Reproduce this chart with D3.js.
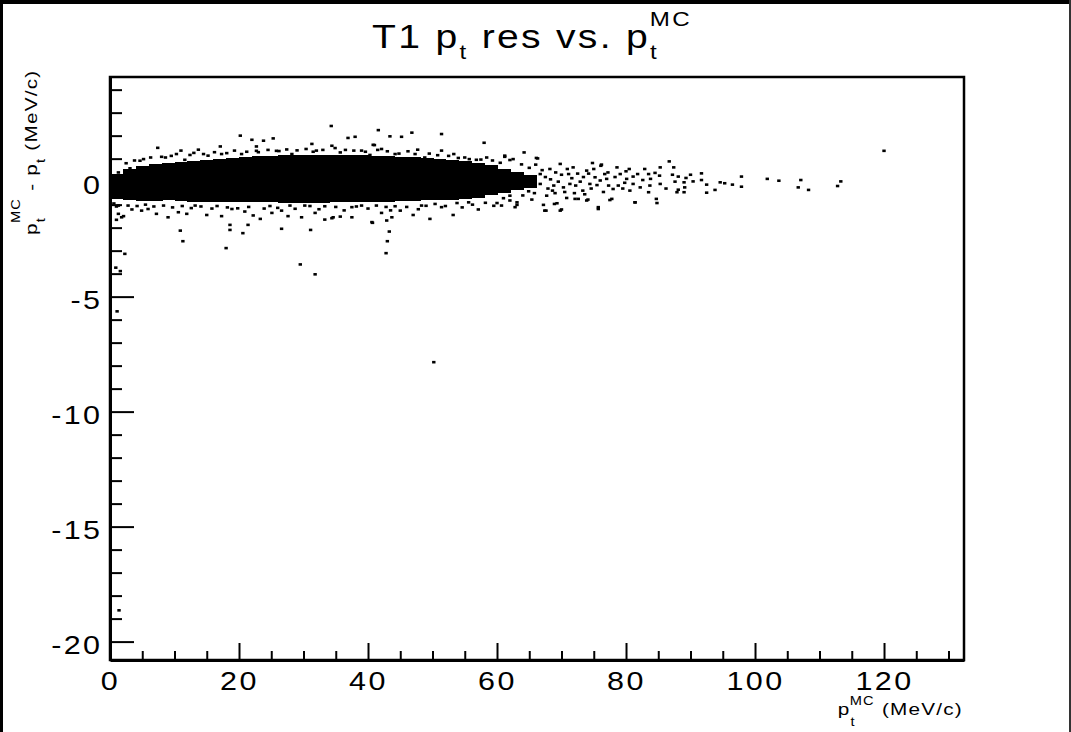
<!DOCTYPE html>
<html>
<head>
<meta charset="utf-8">
<script src="https://cdn.jsdelivr.net/npm/d3@7"></script>
<style>
  body { margin: 0; background: #fff; }
  text { font-family: "Liberation Sans", Arial, sans-serif; fill: #000; }
</style>
</head>
<body>
<svg id="chart" width="1071" height="732"></svg>
<script>
// axis ticks
const xMajor = [0, 20, 40, 60, 80, 100, 120];
const yMajor = [-20, -15, -10, -5, 0];

// dense core of the band, per 2 MeV/c slice (edges, lower and upper limit)
const bandEdges = [0.3, 2, 4, 6, 8, 10, 12, 14, 16, 18, 20, 22, 24, 26, 28, 30, 32,
                   34, 36, 38, 40, 42, 44, 46, 48, 50, 52, 54, 56, 58, 60, 62, 64, 66];
const bandLo = [-0.74, -0.82, -0.85, -0.84, -0.82, -0.85, -0.88, -0.88, -0.88, -0.90, -0.90,
                -0.90, -0.90, -0.92, -0.92, -0.92, -0.92, -0.90, -0.90, -0.88, -0.88, -0.88,
                -0.86, -0.85, -0.82, -0.80, -0.78, -0.75, -0.70, -0.60, -0.48, -0.38, -0.26];
const bandHi = [0.34, 0.56, 0.70, 0.76, 0.80, 0.86, 0.90, 0.95, 1.00, 1.04, 1.08,
                1.10, 1.12, 1.14, 1.14, 1.16, 1.18, 1.18, 1.16, 1.14, 1.12, 1.10,
                1.08, 1.05, 1.01, 0.97, 0.93, 0.88, 0.82, 0.72, 0.54, 0.42, 0.30];

// single entries hugging the band edges
const edgePts = [
  [2.5,0.8],[3.8,0.92],[5.2,0.98],[6.3,1.05],[8.0,1.08],[9.5,1.12],[10.3,1.2],[12.4,1.16],
  [13.0,1.25],[14.5,1.2],[16.2,1.28],[18.1,1.24],[19.3,1.35],[21.2,1.3],[23.0,1.28],[24.5,1.38],
  [26.2,1.33],[27.4,1.4],[29.0,1.36],[30.4,1.42],[31.5,1.3],[33.0,1.38],[34.9,1.46],[36.5,1.38],
  [37.8,1.35],[39.6,1.3],[41.5,1.38],[43.0,1.32],[44.8,1.22],[46.2,1.32],[47.3,1.2],[49.5,1.22],
  [50.8,1.15],[52.5,1.12],[53.3,1.2],[55.0,1.05],[57.5,0.96],[59.3,0.92],[60.5,0.82],[63.8,0.75],
  [65.0,0.6],
  [0.6,-0.95],[2.8,-1.04],[4.2,-1.06],[5.5,-1.0],[6.8,-1.08],[8.3,-1.04],[9.7,-1.12],[11.2,-1.06],
  [12.6,-1.15],[14.1,-1.08],[15.8,-1.17],[16.6,-1.06],[18.2,-1.12],[19.8,-1.16],[21.5,-1.1],
  [23.9,-1.17],[24.8,-1.06],[26.0,-1.14],[28.7,-1.18],[31.0,-1.06],[32.4,-1.2],[35.0,-1.1],
  [36.3,-1.25],[38.2,-1.08],[40.0,-1.17],[42.8,-1.1],[43.5,-1.25],[46.0,-1.1],[47.8,-1.2],
  [49.0,-1.05],[52.0,-1.06],[54.6,-1.12],[56.2,-1.0],[58.2,-0.92],[59.5,-1.05],[61.0,-0.72],
  [64.0,-0.6],[65.8,-0.5]
];

// single entries around the band
const fringePts = [
  [20.2,2.0],[22.0,1.82],[23.8,1.78],[25.3,1.88],[7.4,1.47],[11.0,1.35],[13.7,1.39],[17.1,1.53],
  [22.7,1.53],[8.6,1.05],[4.65,0.91],[11.6,0.95],[15.2,1.13],[17.3,1.2],[20.4,1.2],[22.7,1.34],
  [25.8,1.34],[3.1,0.58],[1.3,0.4],
  [1.3,-1.04],[1.3,-1.4],[2.1,-1.5],[1.0,-1.66],[3.4,-1.21],[4.9,-1.26],[5.9,-1.19],[7.2,-1.4],
  [9.0,-1.55],[10.6,-1.33],[11.9,-1.4],[13.2,-1.04],[15.0,-1.45],[17.3,-1.5],[18.9,-1.19],
  [20.9,-1.3],[22.2,-1.47],[23.3,-1.62],[25.1,-1.36],[26.6,-1.26],[18.6,-1.88],[21.4,-1.88],
  [31.3,1.64],[34.4,1.56],[40.8,1.6],[36.9,1.9],[38.0,1.95],[41.0,1.59],[42.1,1.42],[47.7,1.39],
  [51.4,1.35],[28.2,1.2],[32.0,1.35],[35.7,1.27],[39.0,1.35],[40.3,1.16],[44.2,1.2],[48.8,1.05],
  [54.0,1.03],[51.7,0.91],
  [1.0,-1.08],[1.8,-1.55],[34.6,-1.55],[35.7,-1.52],[33.3,-1.65],[27.9,-1.04],[30.2,-1.04],
  [27.6,-1.5],[29.7,-1.55],[31.8,-1.36],[34.4,-1.59],[37.5,-1.55],[39.0,-1.04],[40.7,-1.79],
  [42.1,-1.36],[43.7,-1.55],[45.0,-1.26],[47.0,-1.45],[49.6,-1.62],[51.4,-1.11],[53.2,-1.45],
  [33.3,-1.07],[37.5,-1.11],[41.3,-1.04],[44.2,-1.07],[48.3,-1.04],[50.4,-0.97],[53.8,-0.93],
  [40.6,-1.76],[42.9,-1.69],
  [55.7,0.98],[56.8,0.95],[58.4,1.05],[61.2,1.13],[62.5,0.98],[66.3,1.01],[69.8,0.77],[74.8,0.81],
  [76.1,0.69],[57.1,-1.21],[60.7,-1.04],[63.1,-1.01],[67.4,-1.26],[70.0,-1.21],[75.7,-1.11],
  [81.4,-0.9],[84.8,-0.93],[55.6,-0.9],[60.0,-0.93],[62.0,-0.82],[65.4,-0.78],[67.2,-1.01],
  [68.9,-0.97],[72.1,-0.75],[74.1,-0.78],[77.8,-0.75],
  [61.2,1.08],[62.0,0.94],[61.5,-0.32],[62.0,-0.61],[62.8,-1.11],[63.1,-0.9],[64.9,-0.42],
  [65.4,-0.1],[66.0,0.74],[66.1,1.03],[66.7,0.33],[66.7,-0.1],[67.6,-1.26],[67.7,-0.61],
  [68.6,-0.39],[68.8,-0.17],[69.1,0.4],[69.3,-0.94],[69.8,-1.26],[70.3,-0.25],[70.8,-0.71],
  [71.1,0.33],[71.8,0.62],[72.2,-0.17],[72.6,-0.75],[73.3,-0.39],[73.9,0.48],[73.9,-0.82],
  [74.4,-0.1],[75.2,0.19],[75.7,-1.19],[76.2,0.74],[76.7,0.33],[77.0,0.12],[77.3,-0.17],
  [77.5,-0.8],[78.0,-0.32],[78.6,0.62],[78.8,-0.17],[79.1,0.33],[80.1,0.12],[80.5,0.55],
  [80.6,-0.39],[81.1,0.22],[81.1,-0.1],[81.4,-0.9],[81.8,0.33],[82.2,-0.25],[82.6,0.07],
  [82.9,0.55],[83.5,0.33],[83.5,-0.46],[83.7,-0.17],[83.8,0.12],[84.5,0.38],[84.7,-0.75],
  [85.2,0.26],[85.3,0.62],[85.3,-0.1],
  [67.0,0.5],[67.5,0.2],[67.9,-0.3],[68.3,0.1],[68.2,0.55],[69.0,-0.5],[69.5,0.0],[70.0,0.3],
  [70.5,-0.45],[70.9,0.55],[71.3,-0.1],[71.6,0.15],[72.0,-0.5],[72.5,0.35],[72.9,0.0],[73.4,0.2],
  [73.6,-0.55],[74.2,0.35],[74.6,-0.3],[75.0,0.55],[75.5,-0.15],[76.0,0.05],[76.5,-0.45],
  [77.2,0.4],[78.3,0.2],[79.5,-0.3],[80.0,0.45],[79.8,-0.05],
  [86.2,-0.3],[86.7,0.88],[87.2,0.3],[87.4,0.62],[87.6,0.0],[87.9,-0.46],[88.1,0.22],[88.1,-0.35],
  [89.0,-0.03],[89.0,-0.46],[89.1,-0.25],[89.3,0.16],[90.0,0.3],[90.4,0.01],[91.7,0.36],[91.7,0.07],
  [92.5,-0.13],[92.5,-0.48],[93.8,-0.36],[94.6,-0.03],[95.3,-0.07],[96.5,-0.13],[97.9,0.22],
  [97.9,-0.22],[101.9,0.12],[103.7,0.04],[106.7,-0.25],[107.1,0.07],[108.3,-0.36],[112.8,-0.19],
  [113.3,0.01]
];

// isolated entries far from the band
const outlierPts = [
  [34.3,2.42],[41.6,2.24],[43.4,1.97],[45.2,1.95],[46.8,2.13],[51.4,2.07],[58.0,1.69],[64.2,1.27],
  [120.0,1.34],
  [10.9,-2.13],[11.3,-2.59],[18.6,-2.1],[20.6,-2.24],[18.0,-2.89],[26.6,-2.05],[29.5,-3.6],
  [31.1,-2.1],[31.8,-4.03],[43.3,-2.17],[43.0,-2.59],[42.8,-3.11],[50.2,-7.85],
  [2.3,-3.14],[0.9,-3.74],[1.6,-3.89],[1.1,-5.64],[1.4,-18.64]
];

const svg = d3.select('#chart');
const x = d3.scaleLinear().domain([0, 132.4]).range([110, 964]);
const y = d3.scaleLinear().domain([-20.8, 4.55]).range([660, 77]);
const stretch = 1.22;

svg.append('rect').attr('width', 1071).attr('height', 732).attr('fill', '#fff');

// canvas border
svg.append('rect').attr('x', 0).attr('y', 0).attr('width', 1071).attr('height', 4).attr('fill', '#000');
svg.append('rect').attr('x', 0).attr('y', 0).attr('width', 3).attr('height', 732).attr('fill', '#000');
svg.append('rect').attr('x', 1069).attr('y', 0).attr('width', 2).attr('height', 732).attr('fill', '#333');

// band core
const cells = bandLo.map((lo, i) => ({x0: bandEdges[i], x1: bandEdges[i + 1], lo: lo, hi: bandHi[i]}));
svg.append('g').attr('shape-rendering', 'crispEdges').selectAll('rect')
  .data(cells)
  .join('rect')
  .attr('x', d => x(d.x0))
  .attr('width', d => x(d.x1) - x(d.x0) + 1)
  .attr('y', d => y(d.hi))
  .attr('height', d => y(d.lo) - y(d.hi))
  .attr('fill', '#000');

// single dots
svg.append('g').selectAll('rect')
  .data(edgePts.concat(fringePts, outlierPts))
  .join('rect')
  .attr('x', d => x(d[0]) - 1.7)
  .attr('y', d => y(d[1]) - 1.3)
  .attr('width', 3.4)
  .attr('height', 2.6)
  .attr('fill', '#000');

// frame
svg.append('rect')
  .attr('x', 110).attr('y', 77).attr('width', 854).attr('height', 583)
  .attr('fill', 'none').attr('stroke', '#000').attr('stroke-width', 2.5);

function styleAxis(g) {
  g.select('.domain').attr('stroke-width', 3);
  g.selectAll('.tick line').attr('stroke-width', 2);
}

// y axis
const gyMinor = svg.append('g').attr('transform', 'translate(110,0)')
  .call(d3.axisLeft(y).tickValues(d3.range(-20, 5, 1).filter(v => v % 5 !== 0))
    .tickSizeInner(-12).tickSizeOuter(0).tickFormat(''));
gyMinor.select('.domain').remove();
gyMinor.selectAll('.tick line').attr('stroke-width', 2);

const gy = svg.append('g').attr('transform', 'translate(110,0)')
  .call(d3.axisLeft(y).tickValues(yMajor).tickSizeInner(-24).tickSizeOuter(0)
    .tickFormat(d => String(d)));
styleAxis(gy);
gy.selectAll('.tick text')
  .attr('font-size', 25).attr('letter-spacing', 2)
  .attr('x', -7.5 / stretch).attr('dy', '0.48em')
  .attr('transform', `scale(${stretch},1)`);

// x axis
const gxMinor = svg.append('g').attr('transform', 'translate(0,660)')
  .call(d3.axisBottom(x).tickValues(d3.range(5, 131, 5).filter(v => v % 20 !== 0))
    .tickSizeInner(-9).tickSizeOuter(0).tickFormat(''));
gxMinor.select('.domain').remove();
gxMinor.selectAll('.tick line').attr('stroke-width', 2);

const gx = svg.append('g').attr('transform', 'translate(0,660)')
  .call(d3.axisBottom(x).tickValues(xMajor).tickSizeInner(-17).tickSizeOuter(0)
    .tickPadding(12).tickFormat(d => String(d)));
styleAxis(gx);
gx.selectAll('.tick text')
  .attr('font-size', 25).attr('letter-spacing', 2)
  .attr('transform', `scale(${stretch},1)`);

// title
const title = svg.append('g').attr('transform', `translate(532,48) scale(1.15,1)`)
  .append('text').attr('text-anchor', 'middle').attr('font-size', 34).attr('letter-spacing', 2);
title.append('tspan').text('T1 p');
title.append('tspan').attr('font-size', 21).attr('dy', 11).text('t');
title.append('tspan').attr('dy', -11).text(' res vs. p');
title.append('tspan').attr('font-size', 21).attr('dy', 11).text('t');
title.append('tspan').attr('font-size', 21).attr('dx', -8).attr('dy', -33).text('MC');

// x title
const xt = svg.append('g').attr('transform', `translate(963,715) scale(${stretch},1)`)
  .append('text').attr('text-anchor', 'end').attr('font-size', 17).attr('letter-spacing', 1);
xt.append('tspan').text('p');
xt.append('tspan').attr('font-size', 12).attr('dy', 11).text('t');
xt.append('tspan').attr('font-size', 12).attr('dx', -5).attr('dy', -21).text('MC');
xt.append('tspan').attr('dy', 10).text('  (MeV/c)');

// y title
const yt = svg.append('g').attr('transform', `translate(37,235) rotate(-90) scale(${stretch},1)`)
  .append('text').attr('text-anchor', 'start').attr('font-size', 17).attr('letter-spacing', 1);
yt.append('tspan').text('p');
yt.append('tspan').attr('font-size', 12).attr('dy', 8).text('t');
yt.append('tspan').attr('font-size', 12).attr('dx', -5).attr('dy', -25).text('MC');
yt.append('tspan').attr('dy', 17).text(' - p');
yt.append('tspan').attr('font-size', 12).attr('dy', 8).text('t');
yt.append('tspan').attr('dy', -8).text('  (MeV/c)');
</script>
</body>
</html>
